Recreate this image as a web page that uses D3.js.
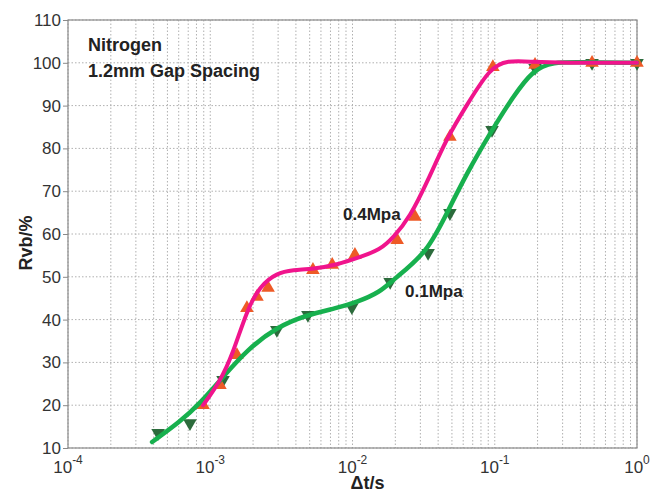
<!DOCTYPE html>
<html>
<head>
<meta charset="utf-8">
<script src="https://cdn.jsdelivr.net/npm/d3@7"></script>
<style>
  body { margin: 0; background: #fff; }
  text { font-family: Arial, "Liberation Sans", sans-serif; }
</style>
</head>
<body>
<div id="chart"></div>
<script>
// marker data
var lowX = [4.3e-4, 7.2e-4, 1.23e-3, 2.94e-3, 4.86e-3, 0.0099, 0.0184, 0.034, 0.0484, 0.0957, 0.192, 0.483, 1.0];
var lowY = [13.5, 15.8, 25.9, 37.6, 41.1, 42.9, 48.8, 55.6, 64.9, 84.3, 98.8, 100, 100];
var highX = [8.9e-4, 1.17e-3, 1.54e-3, 1.81e-3, 2.13e-3, 2.55e-3, 5.27e-3, 7.2e-3, 0.0104, 0.0206, 0.0275, 0.0484, 0.097, 0.192, 0.483, 1.0];
var highY = [20.0, 24.7, 31.7, 42.7, 45.3, 47.4, 51.6, 52.8, 55.1, 58.6, 64.0, 82.7, 99.0, 99.5, 100, 100];

// fitted curves
var lowFitX = [3.9e-4, 6.13e-4, 8.5e-4, 1.23e-3, 1.81e-3, 2.94e-3, 4.79e-3, 7.78e-3, 0.0108, 0.0156, 0.0193, 0.0334, 0.0461, 0.0638, 0.0957, 0.134, 0.185, 0.257, 0.4, 1.0];
var lowFitY = [11.4, 16.1, 20.5, 26.6, 32.9, 38.3, 41.1, 42.7, 44.1, 46.4, 49.3, 55.6, 64.9, 74.3, 84.3, 92.0, 98.3, 100.2, 100.1, 100];
var highFitX = [8.9e-4, 1.17e-3, 1.44e-3, 1.81e-3, 2.24e-3, 2.94e-3, 3.82e-3, 5.27e-3, 7.78e-3, 0.0113, 0.0156, 0.0193, 0.0254, 0.034, 0.0461, 0.0638, 0.0927, 0.122, 0.185, 0.3, 1.0];
var highFitY = [20.0, 25.5, 32.0, 42.2, 47.9, 50.9, 51.6, 51.8, 52.8, 54.6, 56.3, 59.1, 64.0, 72.6, 82.5, 90.2, 98.8, 100.6, 100.2, 100, 100];

var yTicks = [10, 20, 30, 40, 50, 60, 70, 80, 90, 100, 110];
var xExps = [-4, -3, -2, -1, 0];

var W = 650, H = 493;
var margin = {top: 20, right: 13, bottom: 45, left: 68};
var width = W - margin.left - margin.right, height = H - margin.top - margin.bottom;

var svg = d3.select("#chart").append("svg").attr("width", W).attr("height", H);
var g = svg.append("g").attr("transform", "translate(" + margin.left + "," + margin.top + ")");

var x = d3.scaleLog().domain([1e-4, 1]).range([0, width]);
var y = d3.scaleLinear().domain([10, 110]).range([height, 0]);

// grid
var minor = [];
xExps.slice(0, 4).forEach(function (e) {
    for (var k = 1; k <= 9; k++) minor.push(k * Math.pow(10, e));
});
minor.push(1);
g.selectAll(".vgrid").data(minor).enter().append("line")
    .attr("x1", function (d) { return x(d); }).attr("x2", function (d) { return x(d); })
    .attr("y1", 0).attr("y2", height)
    .style("stroke", "#b0b0b0").style("stroke-width", 1).style("stroke-dasharray", "1.5,2");
g.selectAll(".hgrid").data(yTicks).enter().append("line")
    .attr("x1", 0).attr("x2", width)
    .attr("y1", function (d) { return y(d); }).attr("y2", function (d) { return y(d); })
    .style("stroke", "#b0b0b0").style("stroke-width", 1).style("stroke-dasharray", "1.5,2");

// frame
g.append("rect").attr("width", width).attr("height", height)
    .style("fill", "none").style("stroke", "#8a8a8a").style("stroke-width", 1.2);

// y axis
var yAxis = g.append("g").call(d3.axisLeft(y).tickValues(yTicks).tickSize(5).tickPadding(2));
yAxis.select(".domain").remove();
yAxis.selectAll("line").style("stroke", "#8a8a8a");
yAxis.selectAll("text").style("font-size", "17px").style("fill", "#333");

// x axis
var xAxis = g.append("g").attr("transform", "translate(0," + height + ")")
    .call(d3.axisBottom(x).tickValues(xExps.map(function (e) { return Math.pow(10, e); })).tickSize(0).tickFormat(""));
xAxis.select(".domain").remove();
var xl = g.selectAll(".xlab").data(xExps).enter().append("text")
    .attr("x", function (e) { return x(Math.pow(10, e)); })
    .attr("y", height + 25)
    .attr("text-anchor", "middle")
    .style("font-size", "17px").style("fill", "#333");
xl.append("tspan").text("10");
xl.append("tspan").attr("dy", -9).style("font-size", "12px").text(function (e) { return e; });

// axis titles
g.append("text").attr("x", width / 2 + 15).attr("y", height + 41).attr("text-anchor", "middle")
    .style("font-size", "18px").style("font-weight", "bold").style("fill", "#222").text("\u0394t/s");
g.append("text").attr("transform", "rotate(-90)").attr("x", -223).attr("y", -36)
    .attr("text-anchor", "middle")
    .style("font-size", "18px").style("font-weight", "bold").style("fill", "#222").text("Rvb/%");

// markers
var tri = d3.symbol().type(d3.symbolTriangle).size(80);
var lowPts = lowX.map(function (d, i) { return [d, lowY[i]]; });
var highPts = highX.map(function (d, i) { return [d, highY[i]]; });

g.selectAll(".mlow").data(lowPts).enter().append("path")
    .attr("d", tri)
    .attr("transform", function (d) { return "translate(" + x(d[0]) + "," + y(d[1]) + ") rotate(180)"; })
    .style("fill", "#2c6b3c");
g.selectAll(".mhigh").data(highPts).enter().append("path")
    .attr("d", tri)
    .attr("transform", function (d) { return "translate(" + x(d[0]) + "," + y(d[1]) + ")"; })
    .style("fill", "#ee5a26");

// curves
var line = d3.line()
    .x(function (d) { return x(d[0]); })
    .y(function (d) { return y(d[1]); })
    .curve(d3.curveBasis);

g.append("path").datum(lowFitX.map(function (d, i) { return [d, lowFitY[i]]; }))
    .attr("d", line).style("fill", "none").style("stroke", "#17b04e").style("stroke-width", 4.5)
    .style("stroke-linecap", "round");
g.append("path").datum(highFitX.map(function (d, i) { return [d, highFitY[i]]; }))
    .attr("d", line).style("fill", "none").style("stroke", "#f0148c").style("stroke-width", 4)
    .style("stroke-linecap", "round");

// annotations
function note(tx, ty, s, fs) {
    g.append("text").attr("x", tx).attr("y", ty)
        .style("font-size", fs + "px").style("font-weight", "bold").style("fill", "#222").text(s);
}
note(20, 31, "Nitrogen", 18);
note(20, 57, "1.2mm Gap Spacing", 18);
note(275, 200, "0.4Mpa", 17);
note(337, 277, "0.1Mpa", 17);
</script>
</body>
</html>
